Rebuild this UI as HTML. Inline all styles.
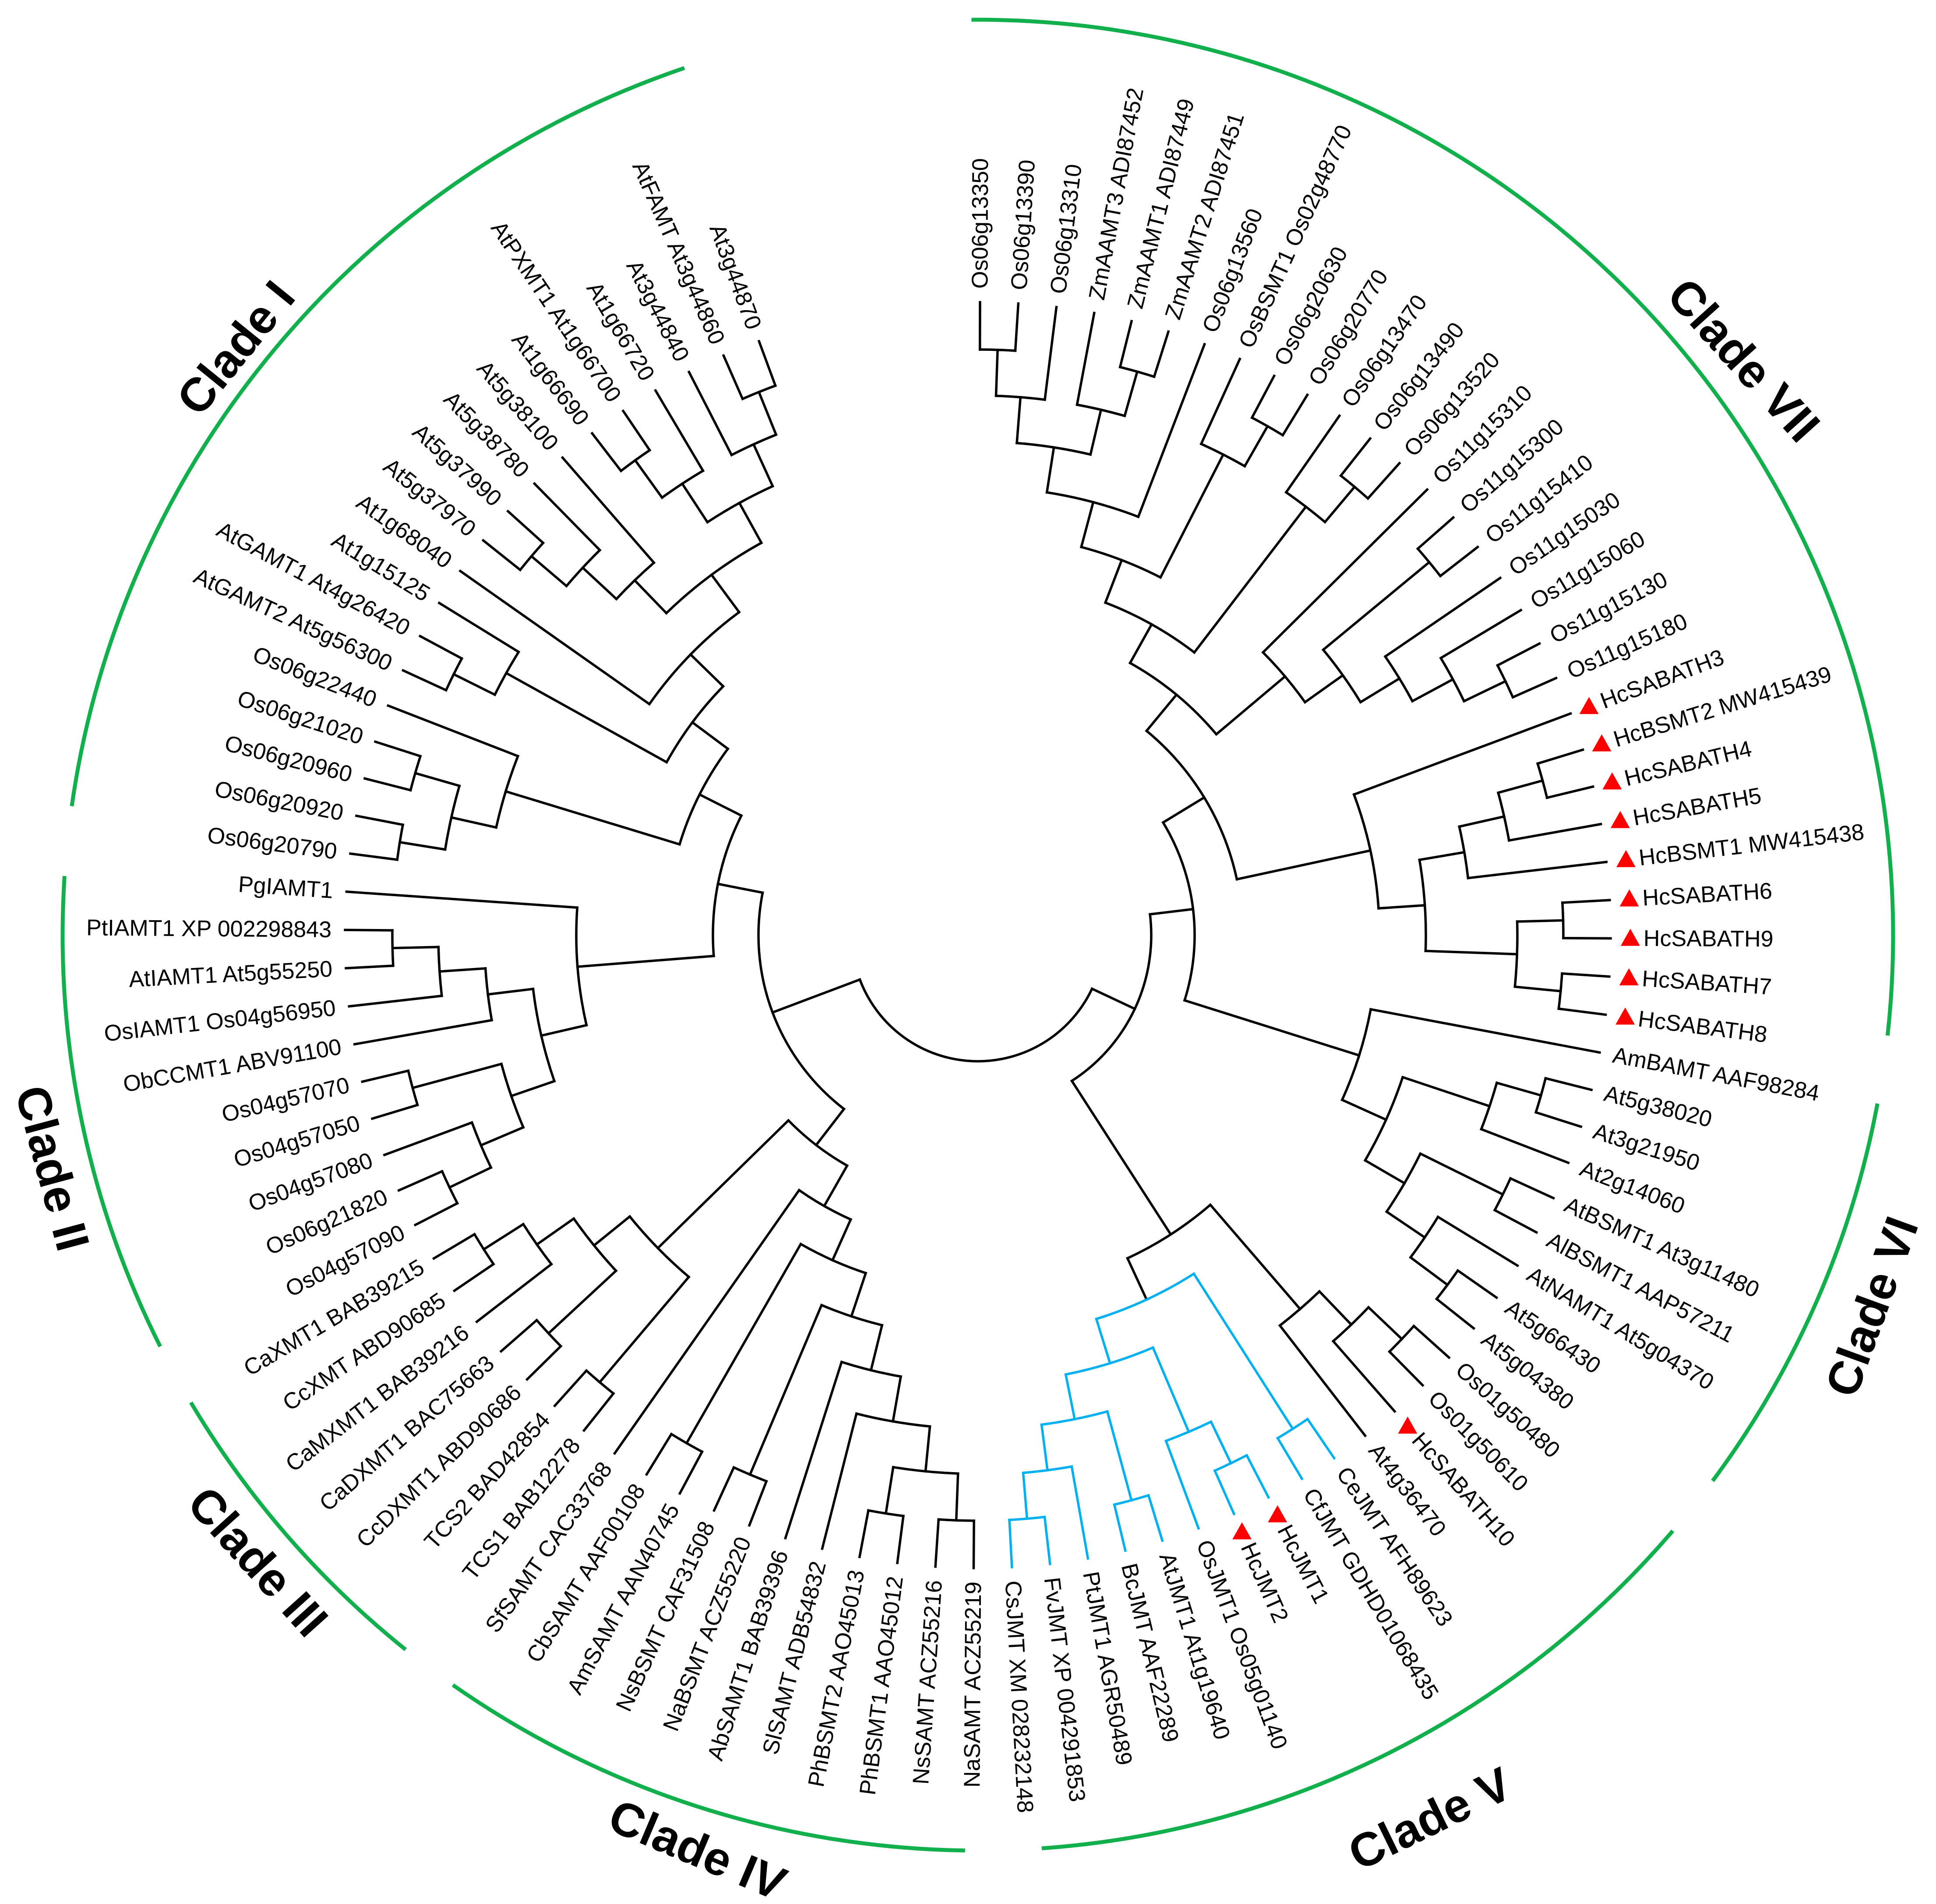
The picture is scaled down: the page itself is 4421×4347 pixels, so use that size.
<!DOCTYPE html>
<html><head><meta charset="utf-8"><style>
html,body{margin:0;padding:0;background:#fff;}
svg{display:block;}
text{font-family:"Liberation Sans",Arial,sans-serif;font-size:52px;fill:#000;dominant-baseline:central;}
.l{text-anchor:end;}
.c{font-size:108px;font-weight:bold;text-anchor:middle;}
</style></head><body>
<svg id="s" xmlns="http://www.w3.org/2000/svg" width="4421" height="4347" viewBox="0 0 4421 4347">
<rect width="4421" height="4347" fill="#fff"/>
<g id="tree"></g>
<g id="labels">
<text x="3709" y="2135" transform="rotate(-89.80 2233 2135)">Os06g13350</text>
<text x="3709" y="2135" transform="rotate(-86.34 2233 2135)">Os06g13390</text>
<text x="3709" y="2135" transform="rotate(-82.87 2233 2135)">Os06g13310</text>
<text x="3709" y="2135" transform="rotate(-79.41 2233 2135)">ZmAAMT3 ADI87452</text>
<text x="3709" y="2135" transform="rotate(-75.94 2233 2135)">ZmAAMT1 ADI87449</text>
<text x="3709" y="2135" transform="rotate(-72.48 2233 2135)">ZmAAMT2 ADI87451</text>
<text x="3709" y="2135" transform="rotate(-69.01 2233 2135)">Os06g13560</text>
<text x="3709" y="2135" transform="rotate(-65.55 2233 2135)">OsBSMT1 Os02g48770</text>
<text x="3709" y="2135" transform="rotate(-62.08 2233 2135)">Os06g20630</text>
<text x="3709" y="2135" transform="rotate(-58.62 2233 2135)">Os06g20770</text>
<text x="3709" y="2135" transform="rotate(-55.15 2233 2135)">Os06g13470</text>
<text x="3709" y="2135" transform="rotate(-51.69 2233 2135)">Os06g13490</text>
<text x="3709" y="2135" transform="rotate(-48.22 2233 2135)">Os06g13520</text>
<text x="3709" y="2135" transform="rotate(-44.76 2233 2135)">Os11g15310</text>
<text x="3709" y="2135" transform="rotate(-41.29 2233 2135)">Os11g15300</text>
<text x="3709" y="2135" transform="rotate(-37.83 2233 2135)">Os11g15410</text>
<text x="3709" y="2135" transform="rotate(-34.36 2233 2135)">Os11g15030</text>
<text x="3709" y="2135" transform="rotate(-30.90 2233 2135)">Os11g15060</text>
<text x="3709" y="2135" transform="rotate(-27.43 2233 2135)">Os11g15130</text>
<text x="3709" y="2135" transform="rotate(-23.97 2233 2135)">Os11g15180</text>
<text x="3753" y="2135" transform="rotate(-20.50 2233 2135)">HcSABATH3</text>
<text x="3753" y="2135" transform="rotate(-17.04 2233 2135)">HcBSMT2 MW415439</text>
<text x="3753" y="2135" transform="rotate(-13.57 2233 2135)">HcSABATH4</text>
<text x="3753" y="2135" transform="rotate(-10.11 2233 2135)">HcSABATH5</text>
<text x="3753" y="2135" transform="rotate(-6.64 2233 2135)">HcBSMT1 MW415438</text>
<text x="3753" y="2135" transform="rotate(-3.18 2233 2135)">HcSABATH6</text>
<text x="3753" y="2135" transform="rotate(0.29 2233 2135)">HcSABATH9</text>
<text x="3753" y="2135" transform="rotate(3.75 2233 2135)">HcSABATH7</text>
<text x="3753" y="2135" transform="rotate(7.22 2233 2135)">HcSABATH8</text>
<text x="3709" y="2135" transform="rotate(10.68 2233 2135)">AmBAMT AAF98284</text>
<text x="3709" y="2135" transform="rotate(14.15 2233 2135)">At5g38020</text>
<text x="3709" y="2135" transform="rotate(17.61 2233 2135)">At3g21950</text>
<text x="3709" y="2135" transform="rotate(21.08 2233 2135)">At2g14060</text>
<text x="3709" y="2135" transform="rotate(24.54 2233 2135)">AtBSMT1 At3g11480</text>
<text x="3709" y="2135" transform="rotate(28.01 2233 2135)">AlBSMT1 AAP57211</text>
<text x="3709" y="2135" transform="rotate(31.47 2233 2135)">AtNAMT1 At5g04370</text>
<text x="3709" y="2135" transform="rotate(34.94 2233 2135)">At5g66430</text>
<text x="3709" y="2135" transform="rotate(38.40 2233 2135)">At5g04380</text>
<text x="3709" y="2135" transform="rotate(41.87 2233 2135)">Os01g50480</text>
<text x="3709" y="2135" transform="rotate(45.33 2233 2135)">Os01g50610</text>
<text x="3753" y="2135" transform="rotate(48.80 2233 2135)">HcSABATH10</text>
<text x="3709" y="2135" transform="rotate(52.26 2233 2135)">At4g36470</text>
<text x="3709" y="2135" transform="rotate(55.73 2233 2135)">CeJMT AFH89623</text>
<text x="3709" y="2135" transform="rotate(59.19 2233 2135)">CfJMT GDHD01068435</text>
<text x="3753" y="2135" transform="rotate(62.66 2233 2135)">HcJMT1</text>
<text x="3753" y="2135" transform="rotate(66.12 2233 2135)">HcJMT2</text>
<text x="3709" y="2135" transform="rotate(69.59 2233 2135)">OsJMT1 Os05g01140</text>
<text x="3709" y="2135" transform="rotate(73.05 2233 2135)">AtJMT1 At1g19640</text>
<text x="3709" y="2135" transform="rotate(76.52 2233 2135)">BcJMT AAF22289</text>
<text x="3709" y="2135" transform="rotate(79.98 2233 2135)">PtJMT1 AGR50489</text>
<text x="3709" y="2135" transform="rotate(83.45 2233 2135)">FvJMT XP 004291853</text>
<text x="3709" y="2135" transform="rotate(86.91 2233 2135)">CsJMT XM 028232148</text>
<text class="l" x="757" y="2135" transform="rotate(-89.62 2233 2135)">NaSAMT ACZ55219</text>
<text class="l" x="757" y="2135" transform="rotate(-86.16 2233 2135)">NsSAMT ACZ55216</text>
<text class="l" x="757" y="2135" transform="rotate(-82.69 2233 2135)">PhBSMT1 AAO45012</text>
<text class="l" x="757" y="2135" transform="rotate(-79.23 2233 2135)">PhBSMT2 AAO45013</text>
<text class="l" x="757" y="2135" transform="rotate(-75.76 2233 2135)">SlSAMT ADB54832</text>
<text class="l" x="757" y="2135" transform="rotate(-72.30 2233 2135)">AbSAMT1 BAB39396</text>
<text class="l" x="757" y="2135" transform="rotate(-68.83 2233 2135)">NaBSMT ACZ55220</text>
<text class="l" x="757" y="2135" transform="rotate(-65.37 2233 2135)">NsBSMT CAF31508</text>
<text class="l" x="757" y="2135" transform="rotate(-61.90 2233 2135)">AmSAMT AAN40745</text>
<text class="l" x="757" y="2135" transform="rotate(-58.44 2233 2135)">CbSAMT AAF00108</text>
<text class="l" x="757" y="2135" transform="rotate(-54.97 2233 2135)">SfSAMT CAC33768</text>
<text class="l" x="757" y="2135" transform="rotate(-51.51 2233 2135)">TCS1 BAB12278</text>
<text class="l" x="757" y="2135" transform="rotate(-48.04 2233 2135)">TCS2 BAD42854</text>
<text class="l" x="757" y="2135" transform="rotate(-44.58 2233 2135)">CcDXMT1 ABD90686</text>
<text class="l" x="757" y="2135" transform="rotate(-41.11 2233 2135)">CaDXMT1 BAC75663</text>
<text class="l" x="757" y="2135" transform="rotate(-37.65 2233 2135)">CaMXMT1 BAB39216</text>
<text class="l" x="757" y="2135" transform="rotate(-34.18 2233 2135)">CcXMT ABD90685</text>
<text class="l" x="757" y="2135" transform="rotate(-30.72 2233 2135)">CaXMT1 BAB39215</text>
<text class="l" x="757" y="2135" transform="rotate(-27.25 2233 2135)">Os04g57090</text>
<text class="l" x="757" y="2135" transform="rotate(-23.79 2233 2135)">Os06g21820</text>
<text class="l" x="757" y="2135" transform="rotate(-20.32 2233 2135)">Os04g57080</text>
<text class="l" x="757" y="2135" transform="rotate(-16.86 2233 2135)">Os04g57050</text>
<text class="l" x="757" y="2135" transform="rotate(-13.39 2233 2135)">Os04g57070</text>
<text class="l" x="757" y="2135" transform="rotate(-9.93 2233 2135)">ObCCMT1 ABV91100</text>
<text class="l" x="757" y="2135" transform="rotate(-6.46 2233 2135)">OsIAMT1 Os04g56950</text>
<text class="l" x="757" y="2135" transform="rotate(-3.00 2233 2135)">AtIAMT1 At5g55250</text>
<text class="l" x="757" y="2135" transform="rotate(0.47 2233 2135)">PtIAMT1 XP 002298843</text>
<text class="l" x="757" y="2135" transform="rotate(3.93 2233 2135)">PgIAMT1</text>
<text class="l" x="757" y="2135" transform="rotate(7.40 2233 2135)">Os06g20790</text>
<text class="l" x="757" y="2135" transform="rotate(10.86 2233 2135)">Os06g20920</text>
<text class="l" x="757" y="2135" transform="rotate(14.33 2233 2135)">Os06g20960</text>
<text class="l" x="757" y="2135" transform="rotate(17.79 2233 2135)">Os06g21020</text>
<text class="l" x="757" y="2135" transform="rotate(21.26 2233 2135)">Os06g22440</text>
<text class="l" x="757" y="2135" transform="rotate(24.72 2233 2135)">AtGAMT2 At5g56300</text>
<text class="l" x="757" y="2135" transform="rotate(28.19 2233 2135)">AtGAMT1 At4g26420</text>
<text class="l" x="757" y="2135" transform="rotate(31.65 2233 2135)">At1g15125</text>
<text class="l" x="757" y="2135" transform="rotate(35.12 2233 2135)">At1g68040</text>
<text class="l" x="757" y="2135" transform="rotate(38.58 2233 2135)">At5g37970</text>
<text class="l" x="757" y="2135" transform="rotate(42.05 2233 2135)">At5g37990</text>
<text class="l" x="757" y="2135" transform="rotate(45.51 2233 2135)">At5g38780</text>
<text class="l" x="757" y="2135" transform="rotate(48.98 2233 2135)">At5g38100</text>
<text class="l" x="757" y="2135" transform="rotate(52.44 2233 2135)">At1g66690</text>
<text class="l" x="757" y="2135" transform="rotate(55.91 2233 2135)">AtPXMT1 At1g66700</text>
<text class="l" x="757" y="2135" transform="rotate(59.37 2233 2135)">At1g66720</text>
<text class="l" x="757" y="2135" transform="rotate(62.84 2233 2135)">At3g44840</text>
<text class="l" x="757" y="2135" transform="rotate(66.30 2233 2135)">AtFAMT At3g44860</text>
<text class="l" x="757" y="2135" transform="rotate(69.77 2233 2135)">At3g44870</text>
</g>
<g id="clades">
<text class="c" transform="translate(538 794) rotate(-51)">Clade I</text>
<text class="c" transform="translate(120 2667) rotate(75)">Clade II</text>
<text class="c" transform="translate(589 3565) rotate(48)">Clade III</text>
<text class="c" transform="translate(1593 4223) rotate(23)">Clade IV</text>
<text class="c" transform="translate(3265 4152) rotate(-26)">Clade V</text>
<text class="c" transform="translate(4274 2983) rotate(-70)">Clade VI</text>
<text class="c" transform="translate(3982 822) rotate(48)">Clade VII</text>
</g>
</svg>
<script>
(function(){
var CX=2233,CY=2135,TIP=1445,STEP=3.465,A0=-89.8,BLACK="#000",BLUE="#00b0f0",SW=5.5;
function la(i){return A0+(i-1)*STEP;}
function P(r,a){var t=a*Math.PI/180;return [(CX+r*Math.cos(t)).toFixed(1),(CY+r*Math.sin(t)).toFixed(1)];}
function N(r,a,b){return [r,a,b];}
var JM=N(917,N(1337,43,44),N(1023,N(1232,N(1337,45,46),47),N(1127,N(1337,48,49),N(1232,50,N(1337,51,52)))));
JM.blue=true;
var I=N(605,
  N(917,80,N(1023,N(1127,N(1232,77,N(1337,78,79)),76),N(1127,N(1337,74,75),N(1232,73,N(1337,71,72))))),
  N(712,N(1127,N(1232,N(1337,81,82),N(1337,83,84)),85),
    N(813,N(1232,N(1337,86,87),88),
      N(917,89,N(1023,N(1127,N(1232,N(1337,90,91),92),93),
        N(1127,N(1232,N(1337,94,95),96),N(1232,97,N(1337,98,99))))))));
var G=N(605,
  N(1022,N(1127,N(1230,68,N(1337,69,70)),N(1337,66,67)),N(1337,64,65)),
  N(711,63,N(813,N(1337,61,62),N(917,N(1337,59,60),N(1023,58,N(1127,57,N(1230,N(1337,55,56),N(1337,53,54))))))));
var A=N(501,I,G);
var E=N(605,
  N(712,
    N(813,
      N(917,N(1023,N(1127,N(1232,N(1337,1,2),3),N(1232,4,N(1337,5,6))),7),N(1232,8,N(1337,9,10))),
      N(1232,11,N(1337,12,13))),
    N(917,14,N(1023,N(1337,15,16),N(1127,17,N(1232,18,N(1337,19,20)))))),
  N(917,21,N(1023,N(1127,N(1232,N(1337,22,23),24),25),N(1232,N(1337,26,27),N(1337,28,29)))));
var F=N(913,30,N(1023,N(1232,N(1337,31,32),33),N(1127,N(1337,34,35),N(1232,36,N(1337,37,38)))));
var C=N(495,E,F);
var D=N(813,N(1127,N(1232,N(1337,39,40),41),42),JM);
var B=N(396,C,D);
var ROOT=N(288,A,B);
function ang(n){if(typeof n==="number")return la(n);if(n.a===undefined)n.a=(ang(n[1])+ang(n[2]))/2;return n.a;}
function rad(n){return typeof n==="number"?TIP:n[0];}
var out=[];
function line(r1,r2,a,c){var p=P(r1,a),q=P(r2,a);out.push('<line x1="'+p[0]+'" y1="'+p[1]+'" x2="'+q[0]+'" y2="'+q[1]+'" stroke="'+c+'" stroke-width="'+SW+'" stroke-linecap="square"/>');}
function arc(r,a1,a2,c,w){var p=P(r,a1),q=P(r,a2);out.push('<path d="M'+p[0]+' '+p[1]+' A'+r+' '+r+' 0 '+((a2-a1)>180?1:0)+' 1 '+q[0]+' '+q[1]+'" fill="none" stroke="'+c+'" stroke-width="'+(w||SW)+'" stroke-linecap="'+(w?'butt':'square')+'"/>');}
function draw(n,col){var c=n.blue?BLUE:col;var a1=ang(n[1]),a2=ang(n[2]);arc(n[0],Math.min(a1,a2),Math.max(a1,a2),c);
  [n[1],n[2]].forEach(function(ch){line(n[0],rad(ch),ang(ch),c);if(typeof ch!=="number")draw(ch,c);});}
draw(ROOT,BLACK);
[21,22,23,24,25,26,27,28,29,41,45,46].forEach(function(i){var p=P(1490,la(i));var x=+p[0],y=+p[1];
  out.push('<polygon points="'+x+','+(y-22)+' '+(x-22)+','+(y+17)+' '+(x+22)+','+(y+17)+'" fill="#ff0000"/>');});
[[-90.4,6.3],[10.6,36.6],[40.6,86.0],[90.8,125.0],[128.7,149.3],[153.3,183.7],[188.1,251.3]].forEach(function(g){
  var r=2090,p=P(r,g[0]),q=P(r,g[1]);
  out.push('<path d="M'+p[0]+' '+p[1]+' A'+r+' '+r+' 0 0 1 '+q[0]+' '+q[1]+'" fill="none" stroke="#12b04c" stroke-width="9"/>');});
document.getElementById("tree").innerHTML=out.join("");
})();
</script>
</body></html>
